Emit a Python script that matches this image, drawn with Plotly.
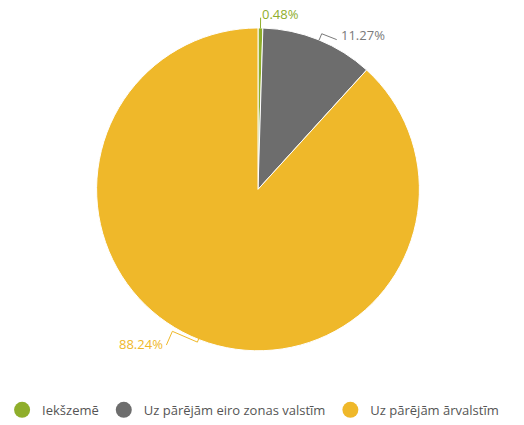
import math
import plotly.graph_objects as go

categories = ["Iekšzemē", "Uz pārējām eiro zonas valstīm", "Uz pārējām ārvalstīm"]
values = [0.48, 11.27, 88.24]
colors = ["#8fae2b", "#6d6d6d", "#efb82a"]
label_colors = ["#8fae2b", "#7a7a7a", "#efb82a"]

W, H = 524, 425
CX, CY, R = 258, 192, 163
RD, CYD = 164.5, 193

fig = go.Figure()
fig.add_trace(go.Pie(
    labels=categories, values=values, sort=False, direction="clockwise", rotation=0,
    marker=dict(colors=colors, line=dict(color="white", width=1)),
    textinfo="none", hoverinfo="label+percent", showlegend=False,
    domain=dict(x=[(CX - RD) / W, (CX + RD) / W], y=[1 - (CYD + RD) / H, 1 - (CYD - RD) / H]),
))

for c, col in zip(categories, colors):
    fig.add_trace(go.Scatter(x=[None], y=[None], mode="markers", name=c,
                             marker=dict(symbol="circle", size=16, color=col)))

def px2paper(x, y):
    return x / W, 1 - y / H

total = sum(values)
cum = 0
shapes = []
annotations = []
styles = [
    dict(out=11, pts=[], lab=(-1, -4), anchor="left"),
    dict(out=7, pts=[(15, 6)], lab=(17, 1), anchor="left"),
    dict(out=5, pts=[(-25, -11), (-31, 3)], lab=(-32, 2), anchor="right"),
]
for i, v in enumerate(values):
    mid = (cum + v / 2) / total * 2 * math.pi
    cum += v
    sx, sy = math.sin(mid), -math.cos(mid)
    p0 = (CX + R * sx, CY + R * sy)
    st = styles[i]
    p1 = (CX + (R + st["out"]) * sx, CY + (R + st["out"]) * sy)
    pts = [p0, p1] + [(p1[0] + dx, p1[1] + dy) for dx, dy in st["pts"]]
    path = ""
    for k, (x, y) in enumerate(pts):
        px, py = px2paper(x, y)
        path += ("M" if k == 0 else " L") + f" {px:.5f} {py:.5f}"
    shapes.append(dict(type="path", xref="paper", yref="paper", path=path,
                       line=dict(color=label_colors[i], width=1)))
    lx, ly = px2paper(p1[0] + st["lab"][0], p1[1] + st["lab"][1])
    annotations.append(dict(xref="paper", yref="paper", x=lx, y=ly, showarrow=False,
                            text=f"{v:.2f}%", xanchor=st["anchor"], yanchor="middle",
                            font=dict(size=13, color=label_colors[i], family="Open Sans")))

fig.update_layout(
    width=W, height=H, margin=dict(l=0, r=0, t=0, b=0),
    paper_bgcolor="white", plot_bgcolor="white",
    xaxis=dict(visible=False), yaxis=dict(visible=False),
    shapes=shapes, annotations=annotations,
    font=dict(family="Open Sans", size=13, color="#555555"),
    legend=dict(orientation="h", x=0.004, xanchor="left", y=0.017, yanchor="middle",
                font=dict(size=13, color="#555555"), itemclick=False, tracegroupgap=0),
)
fig.write_html("out.html", config={"displayModeBar": False},
               post_script="document.body.style.margin='0';document.body.style.overflow='hidden';")
